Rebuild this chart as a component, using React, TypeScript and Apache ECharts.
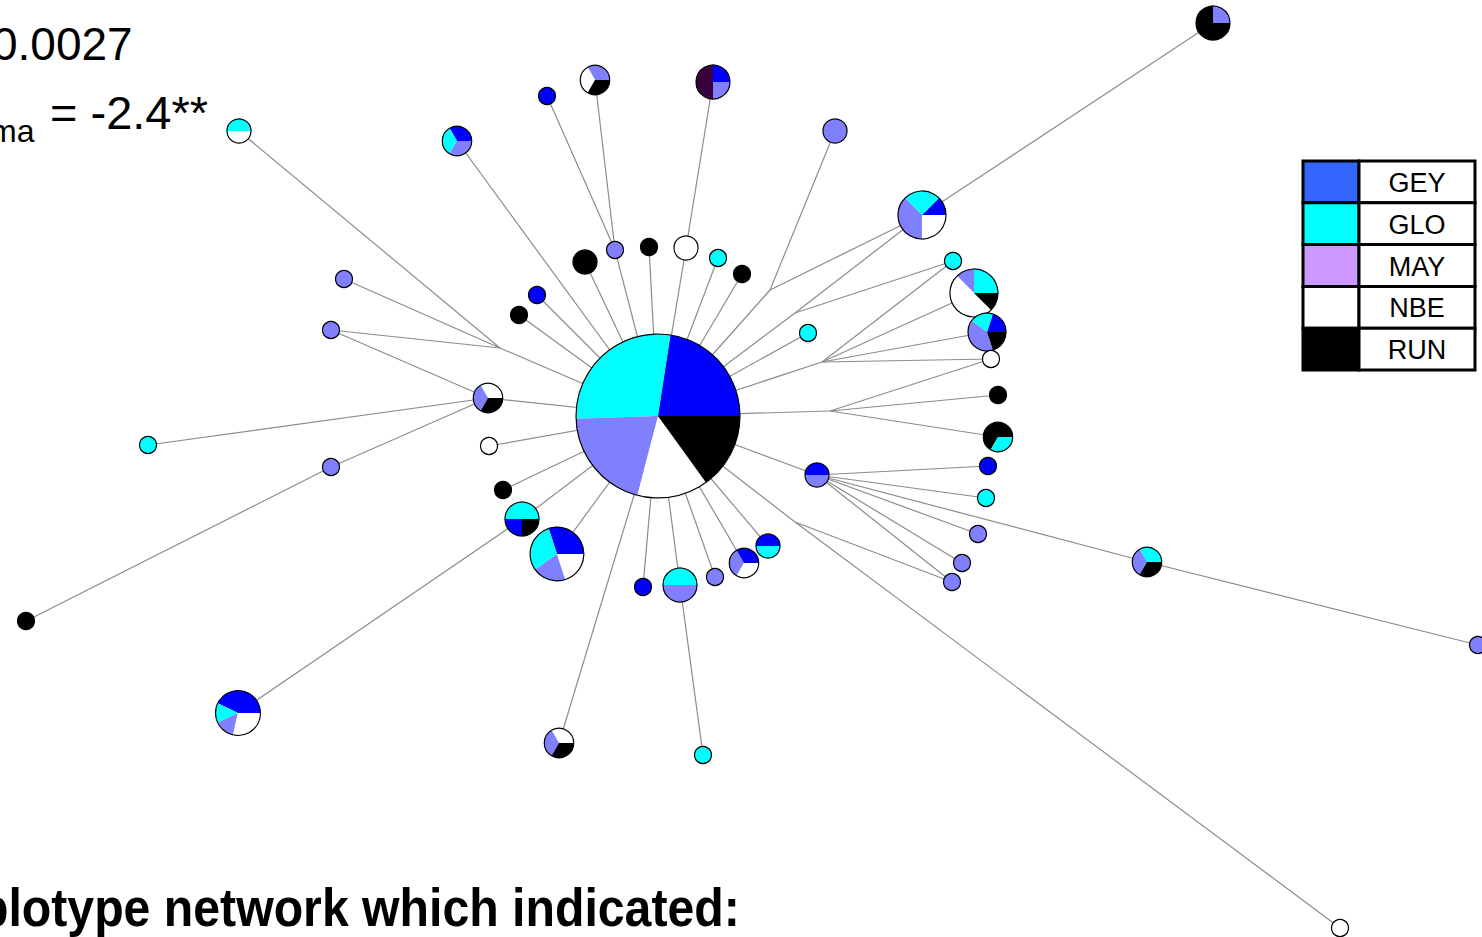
import React, { useEffect, useRef } from "react";
import * as echarts from "echarts";

// Populations (legend order) and colours
const populations = ["GEY", "GLO", "MAY", "NBE", "RUN"];
const legendColors = ["#3366FF", "#00FFFF", "#CC99FF", "#FFFFFF", "#000000"];
const pieColors: Record<string, string> = {
  GEY: "#0000FF",
  GLO: "#00FFFF",
  MAY: "#8080FF",
  NBE: "#FFFFFF",
  RUN: "#000000",
  UNK: "#38003C",
};

// Haplotype layout coordinates (network layout units)
const hapX = [658, 1213, 239, 457, 547, 595, 713, 835, 585, 615, 649, 686, 718, 742, 537, 519, 344, 331, 488, 148, 331, 26, 489, 503, 522, 238, 557, 559, 643, 680, 703, 715, 744, 768, 817, 988, 986, 978, 962, 952, 1147, 1478, 1340, 922, 953, 974, 987, 991, 998, 998, 808];
const hapY = [416, 23, 131, 141, 96, 80, 82, 131, 262, 250, 247, 248, 258, 274, 295, 315, 279, 330, 398, 445, 467, 621, 446, 490, 519, 713, 554, 743, 587, 585, 755, 577, 563, 546, 475, 466, 498, 534, 563, 582, 562, 645, 928, 215, 261, 293, 332, 359, 395, 437, 333];

// Haplotype composition: [population, count], drawn counter-clockwise from 3 o'clock
const hapParts: [string, number][][] = [
  [["GEY", 21], ["GLO", 26], ["MAY", 19], ["NBE", 13], ["RUN", 14]],
  [["MAY", 1], ["RUN", 3]],
  [["GLO", 1], ["NBE", 1]],
  [["GEY", 1], ["GLO", 1], ["MAY", 1]],
  [["GEY", 1]],
  [["MAY", 1], ["NBE", 1], ["RUN", 1]],
  [["GEY", 1], ["UNK", 2], ["MAY", 1]],
  [["MAY", 2]],
  [["RUN", 2]],
  [["MAY", 1]],
  [["RUN", 1]],
  [["NBE", 2]],
  [["GLO", 1]],
  [["RUN", 1]],
  [["GEY", 1]],
  [["RUN", 1]],
  [["MAY", 1]],
  [["MAY", 1]],
  [["NBE", 1], ["MAY", 1], ["RUN", 1]],
  [["GLO", 1]],
  [["MAY", 1]],
  [["RUN", 1]],
  [["NBE", 1]],
  [["RUN", 1]],
  [["GLO", 2], ["GEY", 1], ["RUN", 1]],
  [["GEY", 3], ["GLO", 1], ["MAY", 1], ["NBE", 2]],
  [["GEY", 3], ["GLO", 3], ["MAY", 2], ["NBE", 2]],
  [["NBE", 1], ["MAY", 1], ["RUN", 1]],
  [["GEY", 1]],
  [["GLO", 2], ["MAY", 2]],
  [["GLO", 1]],
  [["MAY", 1]],
  [["GEY", 1], ["MAY", 1], ["NBE", 1]],
  [["GEY", 1], ["GLO", 1]],
  [["GEY", 1], ["MAY", 1]],
  [["GEY", 1]],
  [["GLO", 1]],
  [["MAY", 1]],
  [["MAY", 1]],
  [["MAY", 1]],
  [["GLO", 1], ["MAY", 1], ["RUN", 1]],
  [["MAY", 1]],
  [["NBE", 1]],
  [["GEY", 1], ["GLO", 2], ["MAY", 3], ["NBE", 2]],
  [["GLO", 1]],
  [["GLO", 2], ["MAY", 1], ["NBE", 4], ["RUN", 1]],
  [["GEY", 1], ["GLO", 1], ["MAY", 2], ["RUN", 1]],
  [["NBE", 1]],
  [["RUN", 1]],
  [["RUN", 2], ["GLO", 1]],
  [["GLO", 1]],
];

// Median vectors (unsampled junctions)
const junctionNames = ["J0", "J1", "J2", "J3", "J4", "J5"];
const junctionX = [500, 770, 795, 822, 830, 795];
const junctionY = [348, 290, 313, 362, 411, 522];

// Network edges
const edges: (number | string)[][] = [
  [1, 43], [43, "J1"], [43, "J2"], [7, "J1"], ["J1", 0], [44, "J2"], [44, "J3"], ["J2", 0],
  [45, "J3"], [46, "J3"], [47, "J3"], ["J3", 0], [47, "J4"], [48, "J4"], [49, "J4"], ["J4", 0], [50, 0],
  [34, 0], [34, 35], [34, 36], [34, 37], [34, 38], [34, 39], [34, 40], [40, 41], [0, "J5"], ["J5", 42], ["J5", 39],
  [33, 0], [32, 0], [31, 0], [29, 0], [30, 29], [28, 0], [27, 0], [26, 0], [24, 0], [25, 24], [23, 0], [22, 0],
  [18, 0], [17, 18], [19, 18], [20, 18], [21, 20], [2, "J0"], [16, "J0"], [17, "J0"], ["J0", 0],
  [15, 0], [14, 0], [3, 0], [8, 0], [9, 0], [4, 9], [5, 9], [10, 0], [11, 0], [6, 11], [12, 0], [13, 0],
];

const statTexts = ["0.0027", "ma", "= -2.4**"];
const captionText = "plotype network which indicated:";

const NODE_SCALE = 8.5;

function pointOf(id: number | string): [number, number] {
  if (typeof id === "number") return [hapX[id], hapY[id]];
  const k = junctionNames.indexOf(id);
  return [junctionX[k], junctionY[k]];
}

export default function App() {
  const ref = useRef<HTMLDivElement>(null);
  useEffect(() => {
    if (!ref.current) return;
    const chart = echarts.init(ref.current, null, { renderer: "svg" });

    const legendTop = 161;
    const rowH = 41.8;
    const legendLeft = 1303;
    const swW = 56;
    const txtW = 116;
    const legendGraphics: any[] = [];
    populations.forEach((p, i) => {
      const y = legendTop + i * rowH;
      legendGraphics.push({
        type: "rect",
        shape: { x: legendLeft, y, width: swW, height: rowH },
        style: { fill: legendColors[i], stroke: "#000", lineWidth: 3 },
      });
      legendGraphics.push({
        type: "rect",
        shape: { x: legendLeft + swW, y, width: txtW, height: rowH },
        style: { fill: "#fff", stroke: "#000", lineWidth: 3 },
      });
      legendGraphics.push({
        type: "text",
        x: legendLeft + swW + txtW / 2,
        y: y + rowH / 2 + 1,
        style: {
          text: p,
          font: "27px 'Liberation Sans', Arial, sans-serif",
          fill: "#000",
          align: "center",
          verticalAlign: "middle",
        },
      });
    });

    const option: any = {
      animation: false,
      backgroundColor: "#fff",
      grid: { left: 0, right: 0, top: 0, bottom: 0 },
      xAxis: { type: "value", min: 0, max: 1482, show: false },
      yAxis: { type: "value", min: 0, max: 937, inverse: true, show: false },
      graphic: [
        {
          type: "text",
          x: -8,
          y: 44,
          style: { text: statTexts[0], font: "46px 'Liberation Sans', Arial, sans-serif", fill: "#000", verticalAlign: "middle" },
        },
        {
          type: "text",
          x: -10,
          y: 131,
          style: { text: statTexts[1], font: "32px 'Liberation Sans', Arial, sans-serif", fill: "#000", verticalAlign: "middle" },
        },
        {
          type: "text",
          x: 50,
          y: 112,
          style: { text: statTexts[2], font: "47px 'Liberation Sans', Arial, sans-serif", fill: "#000", verticalAlign: "middle" },
        },
        {
          type: "text",
          x: -21,
          y: 908,
          scaleX: 0.91,
          style: { text: captionText, font: "bold 53px 'Liberation Sans', Arial, sans-serif", fill: "#000", verticalAlign: "middle" },
        },
        ...legendGraphics,
      ],
      series: [
        {
          type: "lines",
          coordinateSystem: "cartesian2d",
          silent: true,
          z: 1,
          lineStyle: { color: "#8c8c8c", width: 1.2, opacity: 1 },
          data: edges.map(([a, b]) => ({ coords: [pointOf(a), pointOf(b)] })),
        },
        {
          type: "custom",
          coordinateSystem: "cartesian2d",
          silent: true,
          z: 2,
          encode: { x: 0, y: 1 },
          data: hapX.map((x, i) => [x, hapY[i], i]),
          renderItem: (params: any, api: any) => {
            const i = api.value(2);
            const c = api.coord([api.value(0), api.value(1)]);
            const parts = hapParts[i];
            const total = parts.reduce((s, p) => s + p[1], 0);
            const r = NODE_SCALE * Math.sqrt(total);
            const children: any[] = [];
            if (parts.length === 1) {
              children.push({
                type: "circle",
                shape: { cx: c[0], cy: c[1], r },
                style: { fill: pieColors[parts[0][0]] },
              });
            } else {
              let a = 0;
              parts.forEach(([pop, n]) => {
                const a1 = a + (n / total) * Math.PI * 2;
                children.push({
                  type: "sector",
                  shape: { cx: c[0], cy: c[1], r, r0: 0, startAngle: -a1, endAngle: -a, clockwise: true },
                  style: { fill: pieColors[pop] },
                });
                a = a1;
              });
            }
            children.push({
              type: "circle",
              shape: { cx: c[0], cy: c[1], r },
              style: { fill: "none", stroke: "#000", lineWidth: 1.2 },
            });
            return { type: "group", children };
          },
        },
      ],
    };
    chart.setOption(option);
    return () => chart.dispose();
  }, []);
  return (
    <div
      ref={ref}
      style={{ position: "fixed", left: 0, top: 0, width: 1482, height: 937, background: "#fff" }}
    />
  );
}
